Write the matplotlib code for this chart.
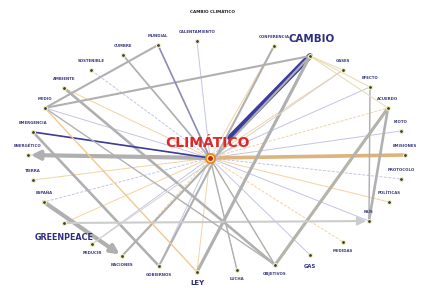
import matplotlib
matplotlib.use("Agg")
import matplotlib.pyplot as plt
import numpy as np

# nodes of the co-occurrence network (layout in image pixels)
NODES = ["CLIMÁTICO", "MUNDIAL", "CALENTAMIENTO", "CONFERENCIA", "CAMBIO", "GASES",
         "EFECTO", "ACUERDO", "KIOTO", "EMISIONES", "PROTOCOLO", "POLÍTICAS", "PAÍS",
         "MEDIDAS", "GAS", "OBJETIVOS", "LUCHA", "LEY", "GOBIERNOS", "NACIONES",
         "REDUCIR", "GREENPEACE", "ESPAÑA", "TIERRA", "ENERGÉTICO", "EMERGENCIA",
         "MEDIO", "AMBIENTE", "SOSTENIBLE", "CUMBRE"]
NODE_X = [210, 158, 197, 274, 310, 343, 370, 388, 401, 405, 401, 389, 369,
          343, 310, 275, 237, 197, 159, 122, 92, 64, 44, 33, 28, 33, 45, 64, 91, 123]
NODE_Y = [158, 45, 41, 46, 56, 70, 87, 108, 131, 155, 179, 202, 221,
          242, 255, 265, 270, 272, 266, 256, 244, 223, 202, 180, 155, 132, 108, 88, 70, 55]
BIG_WORDS = {"CLIMÁTICO", "CAMBIO", "GREENPEACE", "LEY", "GAS"}

# strong links: (source, target, weight)
EDGES = [
    ("CAMBIO", "CLIMÁTICO", 5.5),
    ("CLIMÁTICO", "ENERGÉTICO", 4),
    ("CLIMÁTICO", "EMISIONES", 3.5),
    ("ESPAÑA", "NACIONES", 4),
    ("CAMBIO", "LEY", 3),
    ("ACUERDO", "OBJETIVOS", 3),
    ("ACUERDO", "PAÍS", 2.5),
    ("AMBIENTE", "OBJETIVOS", 2.5),
    ("EMERGENCIA", "GOBIERNOS", 2.5),
    ("CONFERENCIA", "GOBIERNOS", 2),
    ("CAMBIO", "MEDIO", 2),
    ("MUNDIAL", "MEDIO", 2),
    ("CAMBIO", "NACIONES", 2),
    ("MUNDIAL", "CLIMÁTICO", 1.6),
    ("CUMBRE", "CLIMÁTICO", 1.6),
    ("EFECTO", "PAÍS", 1.4),
    ("EMERGENCIA", "CLIMÁTICO", 1.6),
    ("GREENPEACE", "PAÍS", 2),
    ("MEDIO", "OBJETIVOS", 1.3),
    ("MEDIO", "LEY", 1.3),
    ("REDUCIR", "GASES", 1),
    ("CLIMÁTICO", "LUCHA", 1.3),
    ("CLIMÁTICO", "OBJETIVOS", 1.3),
    ("CAMBIO", "GASES", 1),
    ("CAMBIO", "EFECTO", 1),
    ("CAMBIO", "ACUERDO", 1),
]
EDGE_COLORS = {
    ("CAMBIO", "CLIMÁTICO"): "#3c3c9c",
    ("CLIMÁTICO", "EMISIONES"): "#dcb47e",
    ("EMERGENCIA", "CLIMÁTICO"): "#3c3c9c",
    ("MUNDIAL", "CLIMÁTICO"): "#8c8cb8",
    ("MEDIO", "LEY"): "#f0c890",
    ("GREENPEACE", "PAÍS"): "#cccccc",
    ("REDUCIR", "GASES"): "#d4d4d4",
    ("CAMBIO", "GASES"): "#e6dcb4",
    ("CAMBIO", "EFECTO"): "#e6dcb4",
    ("CAMBIO", "ACUERDO"): "#e6dcb4",
    ("ACUERDO", "OBJETIVOS"): "#b4b4aa",
}
ARROWS = {("CLIMÁTICO", "ENERGÉTICO"), ("ESPAÑA", "NACIONES"), ("GREENPEACE", "PAÍS")}
# edges that stop at the big central label
STOP_AT_LABEL = {("CAMBIO", "CLIMÁTICO"): 0.8}

pos = {n: (x, y) for n, x, y in zip(NODES, NODE_X, NODE_Y)}

fig = plt.figure(figsize=(4.24, 2.88), dpi=100)
ax = fig.add_axes([0, 0, 1, 1])
ax.set_xlim(0, 424)
ax.set_ylim(288, 0)
ax.axis("off")

# faint star of links from the central word
for i, n in enumerate(NODES[1:]):
    x0, y0 = pos["CLIMÁTICO"]
    x1, y1 = pos[n]
    col = "#f3d3a0" if i % 2 == 0 else "#c4c4e6"
    ls = "-" if i % 3 else (0, (3, 1.5))
    ax.plot([x0, x1], [y0, y1], color=col, lw=0.7, ls=ls, zorder=1)

for src, dst, w in EDGES:
    x0, y0 = pos[src]
    x1, y1 = pos[dst]
    if (src, dst) in STOP_AT_LABEL:
        f = STOP_AT_LABEL[(src, dst)]
        x1, y1 = x0 + f * (x1 - x0), y0 + f * (y1 - y0)
    col = EDGE_COLORS.get((src, dst), "#b0b0b0")
    if (src, dst) in ARROWS:
        ax.annotate("", xy=(x1, y1), xytext=(x0, y0), zorder=2,
                    arrowprops=dict(arrowstyle="-|>,head_length=0.5,head_width=0.25",
                                    color=col, lw=w * 0.75, shrinkA=0, shrinkB=2))
    else:
        ax.plot([x0, x1], [y0, y1], color=col, lw=w * 0.75, solid_capstyle="round", zorder=2)

# nodes
px = [pos[n][0] for n in NODES[1:]]
py = [pos[n][1] for n in NODES[1:]]
ax.scatter(px, py, s=14, color="#eeeebb", zorder=3, linewidths=0)
ax.scatter(px, py, s=4, color="#3c3c34", zorder=4, linewidths=0)
cx, cy = pos["CLIMÁTICO"]
ax.scatter([cx], [cy], s=45, facecolor="#ffe0a0", edgecolor="#e88a10", lw=1.2, zorder=5)
ax.scatter([cx], [cy], s=6, color="#d02010", zorder=6)

# labels
for n in NODES[1:]:
    x, y = pos[n]
    below = y > 240
    if n in BIG_WORDS:
        continue
    ax.text(x, y + 9 if below else y - 9, n, fontsize=2.8, fontweight="bold",
            color="#3a3a80", ha="center", va="center", zorder=7)

ax.text(cx - 2, cy - 15, "CLIMÁTICO", fontsize=10, fontweight="heavy",
        color="#e02828", ha="center", va="center", zorder=8)
ax.text(312, 39, "CAMBIO", fontsize=7.4, fontweight="bold",
        color="#2e2e7e", ha="center", va="center", zorder=8)
ax.text(64, 237, "GREENPEACE", fontsize=5.8, fontweight="bold",
        color="#2e2e7e", ha="center", va="center", zorder=8)
ax.text(197, 283, "LEY", fontsize=5, fontweight="bold",
        color="#2e2e7e", ha="center", va="center", zorder=8)
ax.text(310, 267, "GAS", fontsize=3.8, fontweight="bold",
        color="#2e2e7e", ha="center", va="center", zorder=8)
ax.text(212, 12, "CAMBIO CLIMÁTICO", fontsize=3, fontweight="bold",
        color="#202020", ha="center", va="center")

fig.savefig("out.png", dpi=100)
